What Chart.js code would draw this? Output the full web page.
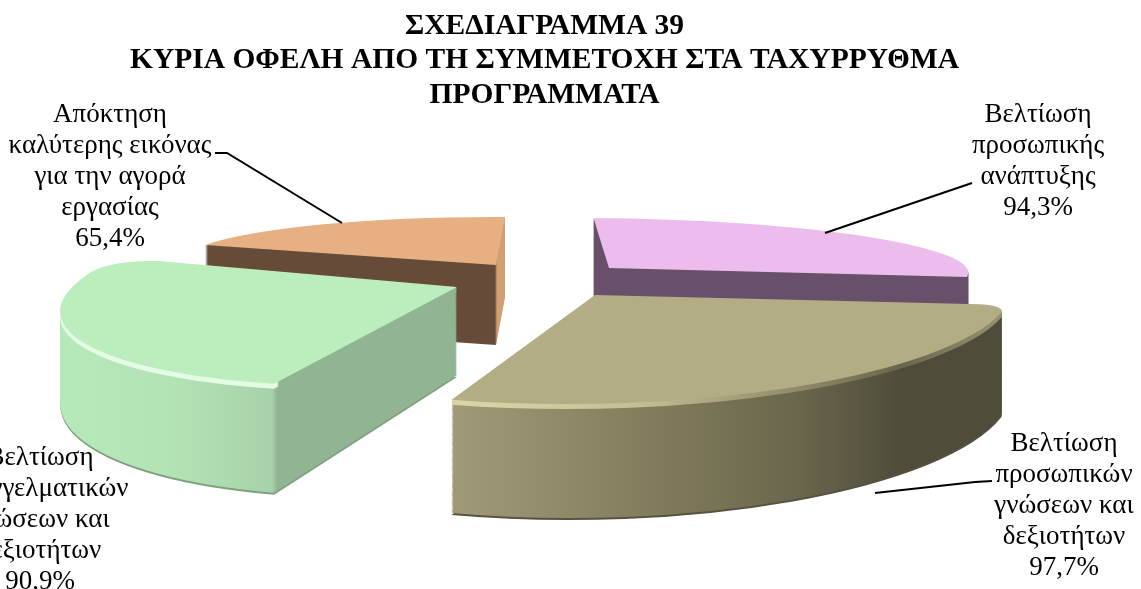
<!DOCTYPE html>
<html>
<head>
<meta charset="utf-8">
<title>Σχεδιάγραμμα 39</title>
<script src="https://cdn.jsdelivr.net/npm/chart.js@4"></script>
<style>
  html, body { margin: 0; padding: 0; background: #fff; overflow: hidden; }
  canvas { display: block; }
</style>
</head>
<body>
<canvas id="chartBenefits" width="1141" height="589"></canvas>
<script>
var titleLines = [
  "ΣΧΕΔΙΑΓΡΑΜΜΑ 39",
  "ΚΥΡΙΑ ΟΦΕΛΗ ΑΠΟ ΤΗ ΣΥΜΜΕΤΟΧΗ ΣΤΑ ΤΑΧΥΡΡΥΘΜΑ",
  "ΠΡΟΓΡΑΜΜΑΤΑ"
];
var categories = [
  ["Βελτίωση", "προσωπικής", "ανάπτυξης"],
  ["Βελτίωση", "προσωπικών", "γνώσεων και", "δεξιοτήτων"],
  ["Βελτίωση", "επαγγελματικών", "γνώσεων και", "δεξιοτήτων"],
  ["Απόκτηση", "καλύτερης εικόνας", "για την αγορά", "εργασίας"]
];
var values = [94.3, 97.7, 90.9, 65.4];

var topColors = ["#ecbcec", "#b3ad85", "#bbedbd", "#e6b083"];
var sliceCorners = [
  0,
  {outerStart: 16, outerEnd: 0, innerStart: 0, innerEnd: 0},
  {outerStart: 0, outerEnd: 30, innerStart: 0, innerEnd: 0},
  0
];

// side wall colours, as [screen x, colour] stops
var sideStops = [
  [[590, "#68506a"], [980, "#68506a"]],
  [[452, "#a09a78"], [620, "#86815f"], [800, "#6a664c"], [900, "#4f4c3b"], [1010, "#4f4c3b"]],
  [[60, "#b6e9b9"], [170, "#b3e3b5"], [272, "#a8d2aa"], [277, "#91b592"], [460, "#91b592"]],
  [[200, "#664c38"], [495, "#664c38"], [497, "#d09f72"], [510, "#d09f72"]]
];
var bevelStops = [
  null,
  [[452, "#dcd6a8"], [640, "#c4be94"], [800, "#8f8a68"], [900, "#6a664c"], [1010, "#9a9574"]],
  [[60, "#e4fbe4"], [277, "#e4fbe4"], [279, "#91b592"], [460, "#91b592"]],
  null
];
var lipColors = [null, "#57523f", "#7f9f81", null];

// 3d look: where each slice's centre lands, where the right and up radius point,
// wall height at the centre and how much taller the wall gets towards the viewer
var sliceProjection = [
  {cx: 609, cy: 268, rx: 359, ry: 2.5, ux: -15.5, uy: -50, depth: 85, flare: 0},
  {cx: 595, cy: 295, rx: 417, ry: -4.3, ux: 12, uy: -109, depth: 100, flare: 14},
  {cx: 457, cy: 287, rx: 392, ry: -9, ux: 62, uy: -99, depth: 88, flare: 22},
  {cx: 496, cy: 265, rx: 318.4, ry: 1.8, ux: 9, uy: -48, depth: 80, flare: 0}
];
var drawOrder = [0, 3, 2, 1];

var labelBoxes = [
  {x: 1038, y: 122},
  {x: 1064, y: 451},
  {x: 40, y: 465},
  {x: 110, y: 122}
];
var leaderLines = [
  [[825, 233], [972, 183]],
  [[875, 493], [975, 482], [992, 481]],
  [],
  [[215, 153], [227, 153], [342, 223]]
];

function sideGradient(ctx, m, stops) {
  // gradient in slice space whose colour only depends on screen x
  var x0 = stops[0][0], x1 = stops[stops.length - 1][0];
  var n = m.a * m.a + m.c * m.c;
  var px = (x0 - m.e) * m.a / n, py = (x0 - m.e) * m.c / n;
  var k = (x1 - x0) / n;
  var g = ctx.createLinearGradient(px, py, px + m.a * k, py + m.c * k);
  stops.forEach(function (s) {
    g.addColorStop((s[0] - x0) / (x1 - x0), s[1]);
  });
  return g;
}

function sliceMatrix(arc, p, dy, grow) {
  var R = arc.outerRadius;
  var m = {a: p.rx / R, b: p.ry / R, c: -p.ux / R, d: -(p.uy - grow) / R};
  m.e = p.cx - m.a * arc.x - m.c * arc.y;
  m.f = p.cy + dy - m.b * arc.x - m.d * arc.y;
  return m;
}

function drawLayer(ctx, arc, m, fill) {
  var saved = arc.options;
  arc.options = Object.assign({}, saved, {backgroundColor: fill, borderWidth: 0});
  ctx.save();
  ctx.transform(m.a, m.b, m.c, m.d, m.e, m.f);
  arc.draw(ctx);
  ctx.restore();
  arc.options = saved;
}

var pie3dPlugin = {
  id: "pie3d",
  beforeDatasetDraw: function (chart) {
    var ctx = chart.ctx;
    var arcs = chart.getDatasetMeta(0).data;
    drawOrder.forEach(function (i) {
      var arc = arcs[i], p = sliceProjection[i];
      var m = sliceMatrix(arc, p, 0, 0);
      var side = sideGradient(ctx, m, sideStops[i]);
      if (lipColors[i]) drawLayer(ctx, arc, sliceMatrix(arc, p, p.depth + 2, p.flare), lipColors[i]);
      for (var d = p.depth; d > 0; d--) {
        drawLayer(ctx, arc, sliceMatrix(arc, p, d, p.flare * d / p.depth), side);
      }
      if (bevelStops[i]) {
        var bevel = sideGradient(ctx, m, bevelStops[i]);
        for (var b = 5; b > 0; b--) drawLayer(ctx, arc, sliceMatrix(arc, p, b, 0), bevel);
      }
      drawLayer(ctx, arc, m, topColors[i]);
    });
    return false;
  },
  afterDatasetsDraw: function (chart) {
    var ctx = chart.ctx;
    ctx.save();
    ctx.strokeStyle = "#000";
    ctx.lineWidth = 2;
    leaderLines.forEach(function (pts) {
      if (!pts.length) return;
      ctx.beginPath();
      pts.forEach(function (pt, k) {
        if (k == 0) ctx.moveTo(pt[0], pt[1]);
        else ctx.lineTo(pt[0], pt[1]);
      });
      ctx.stroke();
    });
    ctx.fillStyle = "#000";
    ctx.font = '27px "Liberation Serif"';
    ctx.textAlign = "center";
    ctx.textBaseline = "alphabetic";
    categories.forEach(function (lines, i) {
      var text = lines.concat(values[i].toFixed(1).replace(".", ",") + "%");
      text.forEach(function (line, k) {
        ctx.fillText(line, labelBoxes[i].x, labelBoxes[i].y + k * 31);
      });
    });
    ctx.restore();
  }
};

new Chart("chartBenefits", {
  type: "pie",
  data: {
    labels: categories.map(function (c) { return c.join(" "); }),
    datasets: [{
      data: values,
      backgroundColor: topColors,
      borderRadius: sliceCorners,
      borderWidth: 0
    }]
  },
  options: {
    responsive: false,
    animation: false,
    events: [],
    layout: { padding: { right: 52, top: 0 } },
    plugins: {
      legend: { display: false },
      tooltip: { enabled: false },
      title: {
        display: true,
        text: titleLines,
        color: "#000",
        font: { family: '"Liberation Serif"', size: 29.5, weight: "bold", lineHeight: 1.17 },
        padding: { top: 9, bottom: 0 }
      }
    }
  },
  plugins: [pie3dPlugin]
});
</script>
</body>
</html>
